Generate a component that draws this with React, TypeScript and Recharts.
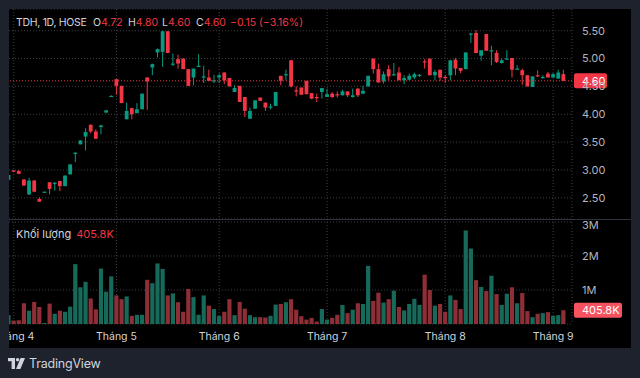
import {
  Bar,
  BarChart,
  CartesianGrid,
  ComposedChart,
  ReferenceLine,
  XAxis,
  YAxis,
} from "recharts";

const UP = "#089981";
const DOWN = "#f23645";
const VOL_UP = "#17695a";
const VOL_DOWN = "#8e2e36";
const GRID = "#3a3d46";
const FONT = "Inter, Roboto, sans-serif";

// daily bars, 31 Mar 2025 -> 5 Sep 2025 (HOSE trading days)
const opens = [
  2.82, 2.99, 2.98, 2.83, 2.56, 2.81, 2.48, 2.60, 2.78, 2.76, 2.80, 2.71, 2.92, 3.30, 3.46, 3.60, 3.81, 3.69, 3.77, 4.03,
  4.32, 4.63, 4.51, 3.91, 4.11, 4.02, 4.09, 4.66, 4.84, 5.11, 5.12, 5.49, 4.90, 4.99, 5.00, 4.81, 4.66, 4.86, 4.67, 4.66,
  4.60, 4.66, 4.75, 4.65, 4.40, 4.51, 4.31, 3.92, 4.10, 4.30, 4.21, 4.13, 4.15, 4.69, 4.71, 4.97, 4.43, 4.48, 4.60, 4.38,
  4.31, 4.40, 4.31, 4.37, 4.36, 4.34, 4.41, 4.31, 4.46, 4.37, 4.50, 5.00, 4.81, 4.59, 4.81, 4.71, 4.75, 4.61, 4.62, 4.66,
  4.70, 4.95, 5.00, 4.70, 4.80, 4.67, 4.70, 4.98, 4.83, 4.81, 5.44, 5.46, 5.05, 5.44, 5.14, 5.10, 4.92, 4.99, 5.01, 4.81,
  4.79, 4.70, 4.49, 4.70, 4.66, 4.73, 4.66, 4.64, 4.72,
];
const highs = [
  2.92, 3.00, 3.00, 2.83, 2.86, 2.82, 2.51, 2.61, 2.78, 2.78, 2.80, 2.90, 3.10, 3.32, 3.53, 3.75, 3.82, 3.73, 3.81, 4.08,
  4.34, 4.63, 4.51, 4.21, 4.11, 4.20, 4.37, 4.66, 4.91, 5.18, 5.50, 5.49, 5.09, 5.07, 5.00, 4.81, 4.82, 5.08, 4.87, 4.80,
  4.71, 4.73, 4.75, 4.65, 4.52, 4.51, 4.31, 4.12, 4.25, 4.30, 4.21, 4.19, 4.40, 4.69, 4.80, 4.97, 4.50, 4.48, 4.60, 4.38,
  4.37, 4.47, 4.46, 4.40, 4.41, 4.44, 4.41, 4.46, 4.47, 4.51, 4.69, 5.00, 4.91, 4.77, 4.88, 4.92, 4.85, 4.70, 4.73, 4.75,
  4.72, 4.99, 5.00, 4.80, 4.80, 4.70, 4.97, 5.01, 4.83, 5.11, 5.46, 5.51, 5.15, 5.44, 5.23, 5.15, 5.00, 5.15, 5.01, 4.88,
  4.82, 4.70, 4.68, 4.79, 4.70, 4.76, 4.74, 4.80, 4.80,
];
const lows = [
  2.81, 2.96, 2.93, 2.72, 2.55, 2.60, 2.43, 2.60, 2.56, 2.63, 2.62, 2.71, 2.92, 3.14, 3.46, 3.35, 3.66, 3.56, 3.64, 4.03,
  4.32, 4.35, 4.20, 3.91, 3.91, 4.02, 4.09, 4.08, 4.70, 5.02, 4.85, 5.10, 4.87, 4.82, 4.81, 4.51, 4.52, 4.86, 4.56, 4.60,
  4.56, 4.56, 4.54, 4.50, 4.40, 4.22, 3.95, 3.92, 4.10, 4.24, 4.06, 4.09, 4.15, 4.52, 4.61, 4.48, 4.32, 4.35, 4.36, 4.27,
  4.22, 4.28, 4.31, 4.29, 4.30, 4.34, 4.31, 4.30, 4.31, 4.36, 4.50, 4.73, 4.57, 4.55, 4.61, 4.69, 4.61, 4.54, 4.61, 4.63,
  4.67, 4.82, 4.70, 4.61, 4.60, 4.56, 4.61, 4.70, 4.74, 4.81, 5.28, 5.10, 4.96, 5.14, 4.88, 4.92, 4.91, 4.98, 4.66, 4.81,
  4.53, 4.50, 4.49, 4.67, 4.64, 4.66, 4.66, 4.64, 4.60,
];
const closes = [
  2.91, 2.98, 2.93, 2.72, 2.81, 2.61, 2.43, 2.61, 2.66, 2.77, 2.71, 2.90, 3.10, 3.31, 3.53, 3.68, 3.69, 3.56, 3.80, 4.07,
  4.33, 4.51, 4.20, 4.06, 4.00, 4.09, 4.37, 4.59, 4.90, 5.17, 5.49, 5.10, 4.91, 4.91, 4.81, 4.51, 4.82, 4.87, 4.68, 4.60,
  4.61, 4.70, 4.61, 4.50, 4.47, 4.22, 4.06, 4.06, 4.25, 4.24, 4.12, 4.14, 4.40, 4.60, 4.72, 4.50, 4.42, 4.35, 4.36, 4.28,
  4.30, 4.47, 4.36, 4.31, 4.35, 4.41, 4.34, 4.34, 4.34, 4.42, 4.69, 4.81, 4.57, 4.72, 4.68, 4.72, 4.61, 4.65, 4.69, 4.72,
  4.71, 4.94, 4.70, 4.76, 4.66, 4.66, 4.97, 4.82, 4.78, 5.11, 5.45, 5.10, 5.15, 5.14, 5.15, 4.94, 4.97, 5.00, 4.80, 4.82,
  4.70, 4.50, 4.68, 4.69, 4.67, 4.66, 4.72, 4.75, 4.60,
];
const volumes = [
  260000, 100000, 110000, 610000, 390000, 650000, 500000, 30000, 600000, 300000, 390000, 360000, 510000, 1760000,
  1080000, 1240000, 750000, 430000, 1630000, 950000, 1400000, 840000, 730000, 810000, 240000, 270000, 270000, 1300000,
  1200000, 1780000, 1620000, 840000, 900000, 640000, 360000, 1030000, 790000, 270000, 840000, 540000, 440000, 240000,
  360000, 730000, 260000, 650000, 450000, 260000, 200000, 200000, 190000, 240000, 570000, 590000, 640000, 730000,
  420000, 230000, 130000, 180000, 70000, 440000, 130000, 180000, 270000, 560000, 320000, 420000, 610000, 590000,
  1710000, 680000, 920000, 630000, 730000, 980000, 500000, 400000, 590000, 740000, 560000, 1450000, 1000000, 540000,
  590000, 360000, 840000, 710000, 440000, 2750000, 2220000, 1290000, 1090000, 970000, 1420000, 880000, 560000, 890000,
  1080000, 610000, 910000, 380000, 200000, 300000, 320000, 350000, 240000, 260000, 405800,
];

const holidays = ["2025-04-07", "2025-04-30", "2025-05-01", "2025-05-02", "2025-09-01", "2025-09-02"];
const monthStarts = ["2025-04-01", "2025-05-05", "2025-06-02", "2025-07-01", "2025-08-01", "2025-09-03"];
const monthLabels = ["Tháng 4", "Tháng 5", "Tháng 6", "Tháng 7", "Tháng 8", "Tháng 9"];
const priceTicks = [2.5, 3, 3.5, 4, 4.5, 5, 5.5];
const volumeTicks = [1000000, 2000000, 3000000];

function tradingDays(count: number) {
  const out: string[] = [];
  const t = new Date(Date.UTC(2025, 2, 31));
  while (out.length < count) {
    const iso = t.toISOString().slice(0, 10);
    const wd = t.getUTCDay();
    if (wd !== 0 && wd !== 6 && !holidays.includes(iso)) out.push(iso);
    t.setUTCDate(t.getUTCDate() + 1);
  }
  return out;
}

const dates = tradingDays(closes.length);
const rows = dates.map((d, i) => ({
  d,
  o: opens[i],
  h: highs[i],
  l: lows[i],
  c: closes[i],
  range: [lows[i], highs[i]],
  v: volumes[i],
}));

const last = rows[rows.length - 1];
const prev = rows[rows.length - 2];
const chg = last.c - prev.c;
const CHART_W = 625;
const AXIS_W = 59;
const PLOT_R = CHART_W - AXIS_W;

function Candle(props: any) {
  const { x, y, width, height, payload } = props;
  const { o, h, l, c } = payload;
  const color = c >= o ? UP : DOWN;
  const cx = x + width / 2;
  const k = h > l ? height / (h - l) : 0;
  const top = y + (h - Math.max(o, c)) * k;
  const bh = Math.max(Math.abs(o - c) * k, 1.2);
  return (
    <g>
      <line x1={cx} x2={cx} y1={y} y2={y + height} stroke={color} strokeWidth={1} />
      <rect x={cx - 1.9} y={top} width={3.8} height={bh} fill={color} />
    </g>
  );
}

function VolBar(props: any) {
  const { x, y, width, height, payload } = props;
  const cx = x + width / 2;
  return (
    <rect x={cx - 2.1} y={y} width={4.2} height={height} fill={payload.c >= payload.o ? VOL_UP : VOL_DOWN} />
  );
}

function Tag({ y, w, text, fill }: { y: number; w: number; text: string; fill: string }) {
  return (
    <g>
      <rect x={PLOT_R + 2} y={y - 7.5} width={w} height={15} rx={2} fill={fill} />
      <text x={PLOT_R + 10} y={y} dy="0.36em" fill="#ffffff" fontSize={11} fontFamily={FONT}>
        {text}
      </text>
    </g>
  );
}

const fmtMonth = (d: string) => monthLabels[monthStarts.indexOf(d)] ?? "";

const head = { position: "absolute" as const, top: 16, fontSize: 10.5, lineHeight: "14px", color: "#d1d4dc", whiteSpace: "pre" as const };

export default function App() {
  return (
    <div
      style={{
        position: "fixed",
        left: 0,
        top: 0,
        width: 640,
        height: 378,
        background: "#1e222d",
        fontFamily: FONT,
        overflow: "hidden",
      }}
    >
      <div
        style={{
          position: "absolute",
          left: 9,
          top: 9,
          width: 622,
          height: 339,
          background: "#000000",
          overflow: "hidden",
        }}
      >
        <div style={{ position: "absolute", left: -3, top: 0 }}>
          <ComposedChart
            width={CHART_W}
            height={210}
            data={rows}
            margin={{ top: 0, right: 0, bottom: 0, left: 0 }}
            barCategoryGap={0}
          >
            <CartesianGrid stroke={GRID} strokeDasharray="1 2" />
            <XAxis dataKey="d" hide ticks={monthStarts} interval={0} padding={{ left: 0, right: 6 }} />
            <YAxis
              orientation="right"
              width={AXIS_W}
              domain={[2.1196, 5.8896]}
              allowDataOverflow
              ticks={priceTicks}
              tickFormatter={(v: number) => v.toFixed(2)}
              axisLine={false}
              tickLine={false}
              tickSize={0}
              tickMargin={10}
              tick={{ fill: "#b2b5be", fontSize: 11, fontFamily: FONT }}
            />
            <ReferenceLine
              y={last.c}
              stroke={DOWN}
              strokeDasharray="1 2"
              label={(p: any) => <Tag y={p.viewBox.y} w={33} text={last.c.toFixed(2)} fill={DOWN} />}
            />
            <Bar dataKey="range" shape={(p: any) => <Candle {...p} />} isAnimationActive={false} />
          </ComposedChart>
        </div>
        <div style={{ position: "absolute", left: 0, top: 210, width: 622, height: 1, background: "#2f323b" }} />
        <div style={{ position: "absolute", left: -3, top: 210 }}>
          <BarChart
            width={CHART_W}
            height={129}
            data={rows}
            margin={{ top: 0, right: 0, bottom: 0, left: 0 }}
            barCategoryGap={0}
          >
            <CartesianGrid stroke={GRID} strokeDasharray="1 2" />
            <XAxis
              dataKey="d"
              ticks={monthStarts}
              interval={0}
              padding={{ left: 0, right: 6 }}
              height={24}
              axisLine={false}
              tickLine={false}
              tickSize={0}
              tickMargin={9}
              tickFormatter={fmtMonth}
              tick={{ fill: "#d1d4dc", fontSize: 10.5, fontFamily: FONT }}
            />
            <YAxis
              orientation="right"
              width={AXIS_W}
              domain={[0, 3088000]}
              allowDataOverflow
              ticks={volumeTicks}
              tickFormatter={(v: number) => `${v / 1000000}M`}
              axisLine={false}
              tickLine={false}
              tickSize={0}
              tickMargin={10}
              tick={{ fill: "#b2b5be", fontSize: 11, fontFamily: FONT }}
            />
            <ReferenceLine
              y={last.v}
              stroke="none"
              label={(p: any) => (
                <Tag y={p.viewBox.y} w={48} text={`${(last.v / 1000).toFixed(1)}K`} fill="#f7525f" />
              )}
            />
            <Bar dataKey="v" shape={(p: any) => <VolBar {...p} />} isAnimationActive={false} />
          </BarChart>
        </div>
      </div>

      <div style={{ ...head, left: 16, letterSpacing: -0.3 }}>TDH, 1D, HOSE</div>
      {[
        ["O", last.o.toFixed(2), 93],
        ["H", last.h.toFixed(2), 128],
        ["L", last.l.toFixed(2), 162],
        ["C", last.c.toFixed(2), 196],
      ].map(([k, v, x]) => (
        <div key={k as string} style={{ ...head, left: x as number }}>
          {k}
          <span style={{ color: DOWN }}>{v}</span>
        </div>
      ))}
      <div style={{ ...head, left: 230, color: DOWN }}>
        {`−${Math.abs(chg).toFixed(2)} (−${((Math.abs(chg) / prev.c) * 100).toFixed(2)}%)`}
      </div>

      <div style={{ ...head, left: 16, top: 227, fontSize: 11 }}>
        Khối lượng <span style={{ color: DOWN, marginLeft: 2 }}>{`${(last.v / 1000).toFixed(1)}K`}</span>
      </div>

      <div style={{ position: "absolute", left: 8, top: 356, display: "flex", alignItems: "center", gap: 4 }}>
        <svg width={17} height={11} viewBox="0 0 17 11">
          <rect x={0} y={0} width={7} height={3.2} fill="#d1d4dc" />
          <rect x={3.6} y={0} width={3.4} height={11} fill="#d1d4dc" />
          <circle cx={9.6} cy={1.7} r={1.7} fill="#d1d4dc" />
          <polygon points="12.6,0 17,0 12.4,11 8,11" fill="#d1d4dc" />
        </svg>
        <span style={{ fontSize: 12.5, color: "#d1d4dc", letterSpacing: -0.2 }}>TradingView</span>
      </div>
    </div>
  );
}
